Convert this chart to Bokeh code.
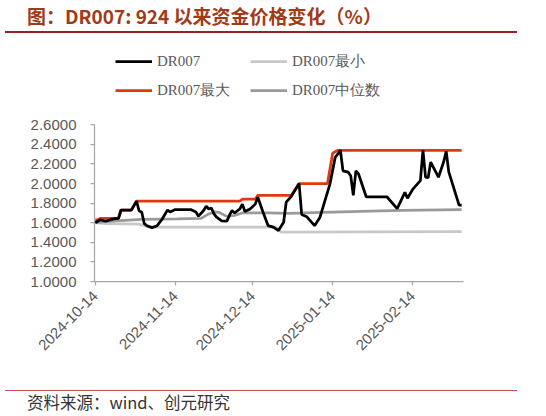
import math
from datetime import datetime
import pandas as pd
from bokeh.plotting import figure
from bokeh.models import (Range1d, FixedTicker, DatetimeTickFormatter, PrintfTickFormatter,
                          Legend, LegendItem, Div)
from bokeh.layouts import column
from bokeh.embed import file_html
from bokeh.resources import INLINE

TITLE = "图：DR007: 924 以来资金价格变化（%）"
SOURCE = "资料来源：wind、创元研究"

dr007_dates = ["2024-10-14", "2024-10-16", "2024-10-18", "2024-10-21", "2024-10-23", "2024-10-24",
               "2024-10-28", "2024-10-30", "2024-10-31", "2024-11-01", "2024-11-02", "2024-11-03",
               "2024-11-05", "2024-11-07", "2024-11-09", "2024-11-11", "2024-11-12", "2024-11-14",
               "2024-11-20", "2024-11-22", "2024-11-23", "2024-11-25", "2024-11-26", "2024-11-27",
               "2024-11-28", "2024-11-29", "2024-11-30", "2024-12-02", "2024-12-04", "2024-12-05",
               "2024-12-06", "2024-12-07", "2024-12-09", "2024-12-10", "2024-12-11", "2024-12-13",
               "2024-12-15", "2024-12-16", "2024-12-18", "2024-12-20", "2024-12-22", "2024-12-24",
               "2024-12-26", "2024-12-27", "2024-12-29", "2024-12-31", "2025-01-01", "2025-01-02",
               "2025-01-04", "2025-01-07", "2025-01-09", "2025-01-13", "2025-01-15", "2025-01-16",
               "2025-01-17", "2025-01-18", "2025-01-20", "2025-01-21", "2025-01-22", "2025-01-23",
               "2025-01-24", "2025-01-27", "2025-02-04", "2025-02-08", "2025-02-11", "2025-02-12",
               "2025-02-14", "2025-02-17", "2025-02-18", "2025-02-19", "2025-02-20", "2025-02-21",
               "2025-02-24", "2025-02-26", "2025-02-27", "2025-02-28", "2025-03-04", "2025-03-05"]
dr007_values = [1.60, 1.63, 1.615, 1.64, 1.645, 1.73,
                1.73, 1.82, 1.72, 1.71, 1.59, 1.57,
                1.55, 1.57, 1.64, 1.73, 1.71, 1.735,
                1.735, 1.71, 1.667, 1.725, 1.77, 1.74,
                1.75, 1.69, 1.657, 1.62, 1.616, 1.674,
                1.725, 1.70, 1.74, 1.79, 1.715, 1.74,
                1.79, 1.86, 1.71, 1.57, 1.555, 1.52,
                1.605, 1.81, 1.87, 1.957, 2.00, 1.684,
                1.66, 1.57, 1.65, 2.00, 2.27, 2.30,
                2.34, 2.13, 2.117, 2.08, 1.88, 2.13,
                2.10, 1.865, 1.865, 1.745, 1.91, 1.85,
                1.94, 2.03, 2.34, 2.065, 2.06, 2.22,
                2.065, 2.22, 2.33, 2.12, 1.78, 1.78]

max_dates = ["2024-10-14", "2024-10-15", "2024-10-16", "2024-10-23", "2024-10-24", "2024-10-28",
             "2024-10-30", "2024-12-09", "2024-12-10", "2024-12-15", "2024-12-16", "2024-12-29",
             "2024-12-31", "2025-01-01", "2025-01-12", "2025-01-14", "2025-01-16", "2025-03-05"]
max_values = [1.63, 1.63, 1.645, 1.645, 1.73, 1.73,
              1.82, 1.82, 1.84, 1.84, 1.88, 1.88,
              1.96, 2.00, 2.00, 2.31, 2.34, 2.34]

min_dates = ["2024-10-14", "2024-10-18", "2024-10-31", "2024-11-04", "2024-12-23", "2024-12-25",
             "2025-03-05"]
min_values = [1.60, 1.59, 1.585, 1.555, 1.555, 1.505, 1.51]

median_dates = ["2024-10-14", "2024-10-22", "2024-11-01", "2024-11-15", "2024-11-24", "2024-11-27",
                "2024-11-29", "2024-12-01", "2024-12-04", "2024-12-07", "2024-12-10", "2024-12-20",
                "2024-12-28", "2025-01-10", "2025-01-25", "2025-02-10", "2025-03-05"]
median_values = [1.60, 1.62, 1.635, 1.64, 1.645, 1.69,
                 1.71, 1.705, 1.665, 1.675, 1.70, 1.70,
                 1.695, 1.705, 1.715, 1.725, 1.735]

y_ticks = [1.0, 1.2, 1.4, 1.6, 1.8, 2.0, 2.2, 2.4, 2.6]
x_tick_labels = ["2024-10-14", "2024-11-14", "2024-12-14", "2025-01-14", "2025-02-14"]

series_names = ["DR007", "DR007最小", "DR007最大", "DR007中位数"]
series_colors = ["#000000", "#C8C8C8", "#DE3A0C", "#9A9A9A"]

AX_COLOR = "#A6A6A6"
TXT_COLOR = "#595959"
W = 546

# ---------------- header (page y 0..48) ----------------
header = Div(width=W, height=48, margin=0, text=(
    '<div style="position:relative;width:546px;height:48px;">'
    '<div style="position:absolute;left:27px;top:3px;font-family:\'Noto Sans CJK SC\';'
    'font-weight:bold;font-size:19px;line-height:26px;color:#A13A17;white-space:nowrap;">'
    + TITLE + '</div>'
    '<div style="position:absolute;left:5px;top:31px;width:512px;height:2px;background:#9E1F1F;"></div>'
    '</div>'))

# ---------------- main chart (page y 48..365) ----------------
PX_PER_UNIT = 97.94
x_start = datetime(2024, 10, 13, 17)
x_end = datetime(2025, 3, 5, 17)
p = figure(width=W, height=317, x_axis_type="datetime",
           x_range=Range1d(x_start, x_end), y_range=Range1d(1.0, 1.0 + 233 / PX_PER_UNIT),
           output_backend="svg", toolbar_location=None, margin=0,
           min_border_left=94, min_border_right=83, min_border_top=0, min_border_bottom=84)
p.outline_line_color = None
p.grid.visible = False

r_min = p.line(pd.to_datetime(min_dates), min_values, line_color=series_colors[1], line_width=2.75)
r_med = p.line(pd.to_datetime(median_dates), median_values, line_color=series_colors[3], line_width=2.75)
r_max = p.line(pd.to_datetime(max_dates), max_values, line_color=series_colors[2], line_width=2.75)
r_dr = p.line(pd.to_datetime(dr007_dates), dr007_values, line_color=series_colors[0], line_width=2.75)

p.yaxis.ticker = FixedTicker(ticks=y_ticks)
p.yaxis.formatter = PrintfTickFormatter(format="%.4f")
p.yaxis.bounds = (y_ticks[0], y_ticks[-1])
p.xaxis.ticker = FixedTicker(ticks=[pd.Timestamp(s).value / 1e6 for s in x_tick_labels])
fmt = "%Y-%m-%d"
p.xaxis.formatter = DatetimeTickFormatter(days=fmt, months=fmt, years=fmt, hours=fmt,
                                          hourmin=fmt, minutes=fmt, minsec=fmt, seconds=fmt,
                                          milliseconds=fmt, microseconds=fmt)
p.xaxis.major_label_orientation = math.pi / 4

for ax in (p.xaxis, p.yaxis):
    ax.axis_line_color = AX_COLOR
    ax.axis_line_width = 1.25
    ax.major_tick_line_color = AX_COLOR
    ax.major_tick_line_width = 1.25
    ax.major_tick_in = 0
    ax.major_tick_out = 4
    ax.minor_tick_line_color = None
    ax.major_label_text_font = "Liberation Sans"
    ax.major_label_text_font_size = "15px"
    ax.major_label_text_color = TXT_COLOR
p.yaxis.major_label_standoff = 14
p.xaxis.major_label_standoff = 8

legend = Legend(items=[LegendItem(label=series_names[0], renderers=[r_dr]),
                       LegendItem(label=series_names[1], renderers=[r_min]),
                       LegendItem(label=series_names[2], renderers=[r_max]),
                       LegendItem(label=series_names[3], renderers=[r_med])],
                location=(21, 181), orientation="horizontal", ncols=2,
                label_text_font="Liberation Serif", label_text_font_size="15px",
                label_text_color=TXT_COLOR, glyph_width=37, glyph_height=20,
                label_height=20, label_standoff=5, label_width=84, spacing=9,
                padding=0, margin=0, border_line_color=None, background_fill_alpha=0)
p.add_layout(legend)

# ---------------- footer (page y 365..416) ----------------
footer = Div(width=W, height=51, margin=0, text=(
    '<div style="position:relative;width:546px;height:51px;">'
    '<div style="position:absolute;left:5px;top:25px;width:512px;height:1px;background:#C0504D;"></div>'
    '<div style="position:absolute;left:27px;top:26px;font-family:\'Noto Sans CJK SC\';'
    'font-size:16.5px;line-height:22px;color:#333333;white-space:nowrap;">'
    + SOURCE + '</div>'
    '</div>'))

layout = column(header, p, footer, spacing=0)
open("out.html", "w").write(file_html(layout, INLINE))
